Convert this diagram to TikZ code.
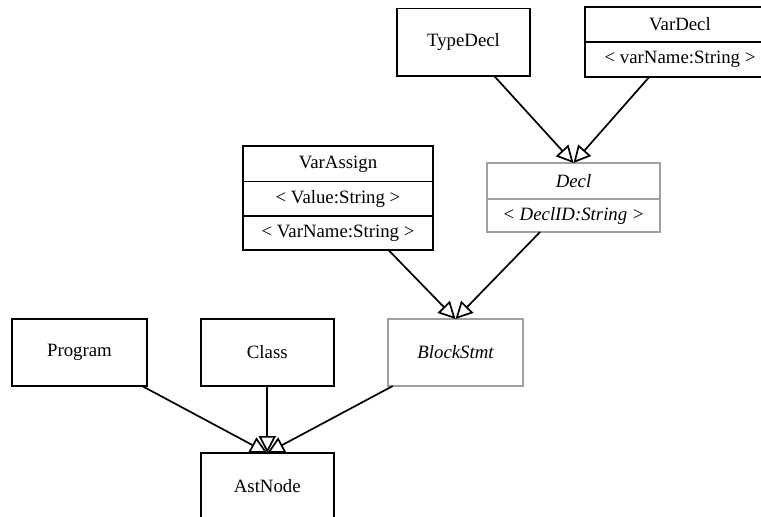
\documentclass[tikz,border=0pt]{standalone}
\usepackage{fontspec}
\setmainfont{Liberation Serif}
\usetikzlibrary{arrows.meta}
\definecolor{absgray}{RGB}{160,160,160}
\tikzset{
  cls/.style={draw=black, line width=1.9pt, minimum width=#1, inner sep=0pt, outer sep=0pt, anchor=center},
  abscls/.style={draw=absgray, line width=1.7pt, minimum width=#1, inner sep=0pt, outer sep=0pt, anchor=center},
  txt/.style={inner sep=0pt, anchor=center},
  divline/.style={line width=1.9pt},
  absdiv/.style={draw=absgray, line width=1.7pt},
  gen/.style={line width=1.7pt, -{Triangle[open, length=17pt, width=17pt, line width=1.7pt]}}
}
\begin{document}
\begin{tikzpicture}[x=1pt, y=-1pt, font=\fontsize{18.8}{22}\selectfont]
\useasboundingbox (0,0) rectangle (761,517);
\clip (0,0) rectangle (761,517);

% TypeDecl
\node[cls=133pt, minimum height=67.5pt] (typedecl) at (463.5,42.25) {};
\node[txt] (typedeclT) at (463.5,42.25) {TypeDecl};

% VarDecl
\node[cls=190pt, minimum height=70pt] (vardecl) at (680,42) {};
\node[txt] (vardeclT) at (680,24.5) {VarDecl};
\node[txt] (vardeclA) at (680,59.5) {< varName:String >};
\coordinate (vd1) at (585,42);
\coordinate (vd2) at (775,42);
\draw[divline] (vd1) -- (vd2);

% Decl
\node[abscls=173pt, minimum height=69pt] (decl) at (573.5,197.5) {};
\node[txt] (declT) at (573.5,181) {\itshape Decl};
\node[txt] (declA) at (573.5,215.5) {\itshape < DeclID:String >};
\coordinate (dc1) at (487,199);
\coordinate (dc2) at (660,199);
\draw[absdiv] (dc1) -- (dc2);

% VarAssign
\node[cls=190pt, minimum height=104pt] (varassign) at (338,198) {};
\node[txt] (varassignT) at (338,164) {VarAssign};
\node[txt] (varassignA) at (338,199) {< Value:String >};
\node[txt] (varassignB) at (338,233.5) {< VarName:String >};
\coordinate (va1) at (243,181.5);
\coordinate (va2) at (433,181.5);
\coordinate (va3) at (243,216);
\coordinate (va4) at (433,216);
\draw[divline] (va1) -- (va2);
\draw[divline] (va3) -- (va4);

% Bottom row
\node[cls=135pt, minimum height=67pt] (program) at (79.5,352.5) {Program};
\node[cls=133.3pt, minimum height=67pt] (class) at (267.3,352.5) {Class};
\node[abscls=135pt, minimum height=67pt] (blockstmt) at (455.5,352.5) {\itshape BlockStmt};
\node[cls=133.3pt, minimum height=67pt] (astnode) at (267.3,486.5) {AstNode};

% Generalizations
\draw[gen] (typedecl) -- (decl.north);
\draw[gen] (vardecl) -- (decl.north);
\draw[gen] (varassign) -- (blockstmt.north);
\draw[gen] (decl) -- (blockstmt.north);
\draw[gen] (program) -- (astnode.north);
\draw[gen] (class) -- (astnode.north);
\draw[gen] (blockstmt) -- (astnode.north);
\end{tikzpicture}
\end{document}
